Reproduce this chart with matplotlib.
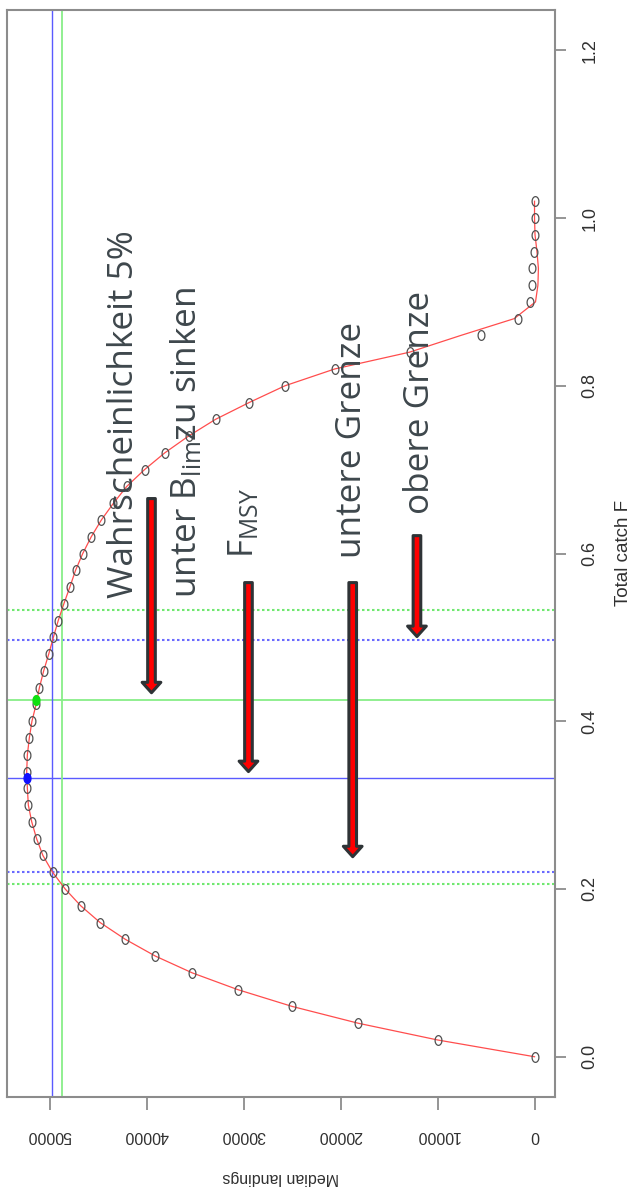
import matplotlib
matplotlib.use('Agg')
import matplotlib.pyplot as plt
from matplotlib.path import Path
from matplotlib.patches import FancyArrowPatch
import numpy as np

# fishing mortality grid (plotted upward, the picture is a rotated R plot)
F = [0.00, 0.02, 0.04, 0.06, 0.08, 0.10, 0.12, 0.14, 0.16, 0.18,
     0.20, 0.22, 0.24, 0.26, 0.28, 0.30, 0.32, 0.34, 0.36, 0.38,
     0.40, 0.42, 0.44, 0.46, 0.48, 0.50, 0.52, 0.54, 0.56, 0.58,
     0.60, 0.62, 0.64, 0.66, 0.68, 0.70, 0.72, 0.74, 0.76, 0.78,
     0.80, 0.82, 0.84, 0.86, 0.88, 0.90, 0.92, 0.94, 0.96, 0.98,
     1.00, 1.02]
# median landings at each F (open circles)
landings = [0, 10000, 18200, 25000, 30600, 35300, 39100, 42200, 44800, 46800,
            48400, 49700, 50700, 51350, 51850, 52200, 52300, 52370, 52300, 52100,
            51830, 51400, 51060, 50620, 50100, 49620, 49120, 48540, 47920, 47330,
            46590, 45710, 44670, 43420, 42050, 40220, 38130, 35680, 32890, 29430,
            25730, 20610, 12870, 5490, 1700, 500, 300, 250, 50, 0,
            0, 0]
# smoothed fit (red line), differs from the points only near the collapse
fit = landings[:42] + [12900, 7600, 2100, -100, -350, -400, -250, -50, 0, 0]

F_msy, L_msy = 0.332, 52370        # blue filled point
F_pa, L_pa = 0.4254, 51370         # green filled point
blue_lo, blue_hi = 0.2198, 0.497   # blue dotted range
green_lo, green_hi = 0.206, 0.5327 # green dotted range
vline_blue, vline_green = 49740, 48700

land_ticks = [0, 10000, 20000, 30000, 40000, 50000]
F_ticks = [0.0, 0.2, 0.4, 0.6, 0.8, 1.0, 1.2]

# annotations: label, landings (baseline), F (start)
labels = ['Wahrscheinlichkeit 5%', 'unter $B_{lim}$zu sinken', '$F_{MSY}$',
          'untere Grenze', 'obere Grenze']
label_L = [41380, 34900, 29030, 17910, 10910]
label_F = [0.547, 0.547, 0.595, 0.595, 0.647]
# arrows: landings, tail F, tip F
arrow_L = [39500, 29500, 18750, 12125]
arrow_top = [0.6655, 0.5653, 0.5653, 0.6213]
arrow_tip = [0.434, 0.340, 0.2385, 0.501]

plt.rcParams['mathtext.default'] = 'regular'

fig = plt.figure(figsize=(6.32, 11.9), dpi=100)
ax = fig.add_axes([7.3 / 632, 1 - 1097 / 1190, (554.8 - 7.3) / 632, (1097 - 10) / 1190])

frame = '#8c8c8c'
for s in ax.spines.values():
    s.set_color(frame)
    s.set_linewidth(1.5)

# slightly tall ellipse marker (the original picture is stretched)
t = np.linspace(0, 2 * np.pi, 40)
ell = Path(np.column_stack([0.7 * np.cos(t), np.sin(t)]))

ax.axhline(blue_lo, color='#6a6aff', lw=1.5, ls=(0, (1.2, 1.2)))
ax.axhline(blue_hi, color='#6a6aff', lw=1.5, ls=(0, (1.2, 1.2)))
ax.axhline(green_lo, color='#70e870', lw=1.5, ls=(0, (1.2, 1.2)))
ax.axhline(green_hi, color='#70e870', lw=1.5, ls=(0, (1.2, 1.2)))
ax.axhline(F_msy, color='#5a5aff', lw=1.0)
ax.axhline(F_pa, color='#88ee88', lw=1.3)
ax.axvline(vline_blue, color='#5a5aff', lw=1.0)
ax.axvline(vline_green, color='#88ee88', lw=1.3)

ax.plot(fit, F, color='#ff4d4d', lw=0.9, zorder=3)
ax.plot(landings, F, ls='none', marker=ell, ms=7, mfc='none',
        mec='#505050', mew=0.9, zorder=4)
ax.plot([L_msy], [F_msy], ls='none', marker=ell, ms=7, color='#1010ff', zorder=5)
ax.plot([L_pa], [F_pa], ls='none', marker=ell, ms=7, color='#10e010', zorder=5)

for L, top, tip in zip(arrow_L, arrow_top, arrow_tip):
    ax.add_patch(FancyArrowPatch(
        (L, top), (L, tip), mutation_scale=1, shrinkA=0, shrinkB=0,
        arrowstyle='simple,head_width=13.5,head_length=7.5,tail_width=5.5',
        fc='#ff0000', ec='#2e3336', lw=2.2, zorder=6))

for txt, L, f in zip(labels, label_L, label_F):
    ax.text(L, f, txt, rotation=90, rotation_mode='anchor', ha='left',
            va='baseline', fontsize=25.3, color='#3e474c', family='Open Sans',
            zorder=7)

ax.set_xlim(54370, -2090)
ax.set_ylim(-0.048, 1.248)
ax.set_xticks(land_ticks)
ax.set_xticklabels([str(v) for v in land_ticks], family='Liberation Sans',
                   fontsize=11.5, color='#303030')
ax.set_yticks(F_ticks)
ax.set_yticklabels(['%.1f' % v for v in F_ticks], family='Liberation Sans',
                   fontsize=13, color='#303030')
ax.yaxis.tick_right()
ax.tick_params(axis='x', labelrotation=180, length=9, width=1.3, color=frame, pad=13)
ax.tick_params(axis='y', labelrotation=90, length=8, width=1.3, color=frame, pad=11)
for lab in ax.get_yticklabels():
    lab.set_verticalalignment('center')

fig.text(623 / 632, 1 - 553 / 1190, 'Total catch F', rotation=90, ha='center',
         va='center', family='Liberation Sans', fontsize=13.5, color='#303030')
fig.text(281 / 632, 1 - 1178 / 1190, 'Median landings', rotation=180, ha='center',
         va='center', family='Liberation Sans', fontsize=11.5, color='#303030')

fig.savefig('out.png', dpi=100)
